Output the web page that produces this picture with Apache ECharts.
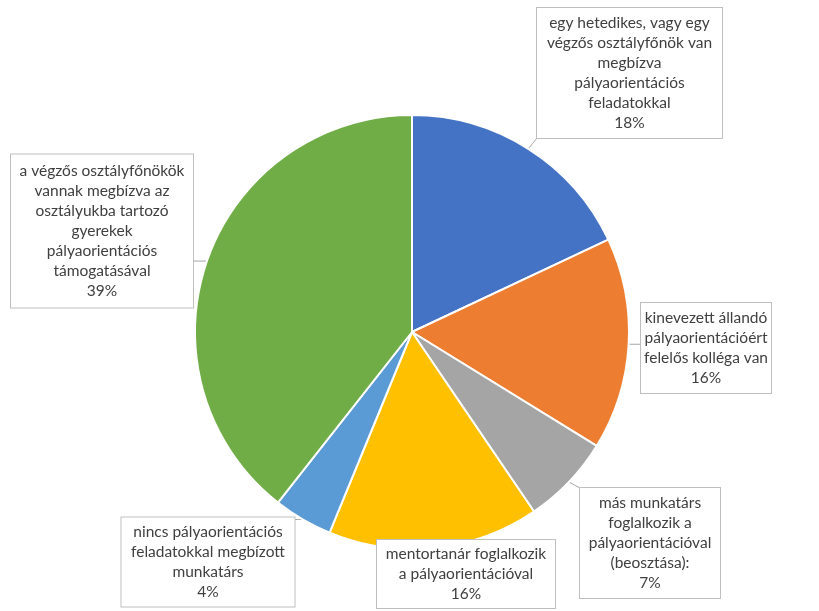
<!DOCTYPE html>
<html><head><meta charset="utf-8">
<script src="https://cdn.jsdelivr.net/npm/echarts@6/dist/echarts.min.js"></script>
<style>html,body{margin:0;padding:0;background:#fff}#c{width:819px;height:611px}</style>
</head><body><div id="c"></div>
<script>
const categories = [
  'egy hetedikes, vagy egy\nvégzős osztályfőnök van\nmegbízva\npályaorientációs\nfeladatokkal',
  'kinevezett állandó\npályaorientációért\nfelelős kolléga van',
  'más munkatárs\nfoglalkozik a\npályaorientációval\n(beosztása):',
  'mentortanár foglalkozik\na pályaorientációval',
  'nincs pályaorientációs\nfeladatokkal megbízott\nmunkatárs',
  'a végzős osztályfőnökök\nvannak megbízva az\nosztályukba tartozó\ngyerekek\npályaorientációs\ntámogatásával'
];
const values = [18.0, 15.8, 6.7, 15.7, 4.4, 39.4];
const colors = ['#4472C4', '#ED7D31', '#A5A5A5', '#FFC000', '#5B9BD5', '#70AD47'];

// label box layout (center x/y, width, height)
const boxes = [
  {cx: 629.5, cy: 73, w: 185, h: 130},
  {cx: 706, cy: 348, w: 130, h: 90},
  {cx: 650, cy: 543, w: 140, h: 110},
  {cx: 466, cy: 574, w: 178, h: 68},
  {cx: 208, cy: 562, w: 173, h: 89},
  {cx: 102, cy: 231, w: 182, h: 153}
];
const LH = 20;

const data = categories.map((name, i) => {
  const lines = name.split('\n').length + 1;
  const padV = Math.max(0, (boxes[i].h - lines * LH) / 2);
  return {
    name: name,
    value: values[i],
    itemStyle: {color: colors[i]},
    label: {width: boxes[i].w, padding: [padV, 0, padV, 0]}
  };
});

const chart = echarts.init(document.getElementById('c'));
chart.setOption({
  animation: false,
  series: [{
    type: 'pie',
    center: [412, 332],
    radius: 217,
    startAngle: 90,
    clockwise: true,
    avoidLabelOverlap: false,
    percentPrecision: 0,
    itemStyle: {borderColor: '#fff', borderWidth: 2},
    label: {
      show: true,
      position: 'outside',
      formatter: '{b}\n{d}%',
      fontFamily: 'Lato',
      fontSize: 15.5,
      lineHeight: LH,
      color: '#404040',
      align: 'center',
      backgroundColor: '#fff',
      borderColor: '#bfbfbf',
      borderWidth: 1
    },
    labelLine: {show: true, lineStyle: {color: '#a6a6a6', width: 1}},
    labelLayout: function (params) {
      const b = boxes[params.dataIndex];
      const res = {x: b.cx, y: b.cy, align: 'center', verticalAlign: 'middle'};
      if (params.labelLinePoints && params.labelLinePoints.length) {
        const p0 = params.labelLinePoints[0];
        const l = b.cx - b.w / 2, r = b.cx + b.w / 2, t = b.cy - b.h / 2, bt = b.cy + b.h / 2;
        const px = Math.min(Math.max(p0[0], l), r);
        const py = Math.min(Math.max(p0[1], t), bt);
        res.labelLinePoints = [p0, [(p0[0] + px) / 2, (p0[1] + py) / 2], [px, py]];
      }
      return res;
    },
    data: data
  }]
});
</script>
</body></html>
